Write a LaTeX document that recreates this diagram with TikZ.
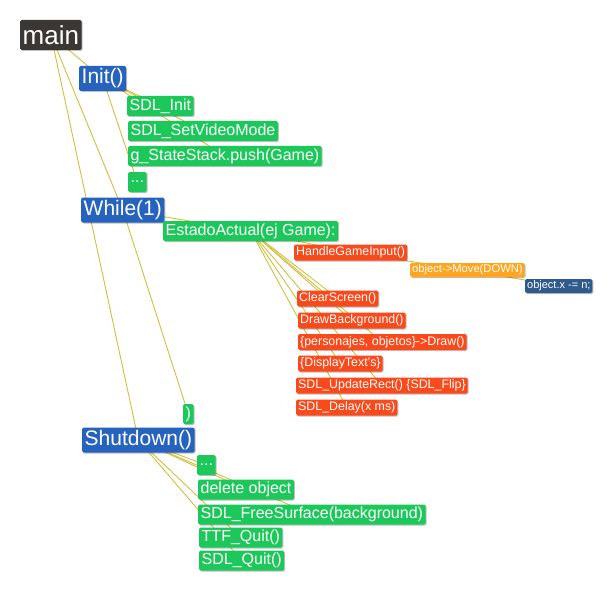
\documentclass[tikz,border=0pt]{standalone}
\usepackage{fontspec}
\setmainfont{Liberation Sans}
\usetikzlibrary{shadows,backgrounds}

\definecolor{mainclr}{HTML}{3B3735}
\definecolor{blueclr}{HTML}{2563BE}
\definecolor{greenclr}{HTML}{1CC85A}
\definecolor{redclr}{HTML}{FA4A1C}
\definecolor{orangeclr}{HTML}{FFA51F}
\definecolor{navyclr}{HTML}{2F5A8C}
\definecolor{linkclr}{HTML}{D2BE40}

\tikzset{
	box/.style={rectangle, rounded corners=1.5pt, text=white, anchor=west,
		inner xsep=2.5pt, inner ysep=0pt,
		drop shadow={shadow xshift=1pt, shadow yshift=-1pt, opacity=.25, fill=black}},
	rootbox/.style={box, fill=mainclr, minimum height=30pt, font=\fontsize{26}{26}\selectfont},
	lvlone/.style={box, fill=blueclr, minimum height=25pt, font=\fontsize{21}{21}\selectfont},
	lvltwo/.style={box, fill=greenclr, minimum height=20pt, font=\fontsize{16}{16}\selectfont},
	lvlthree/.style={box, fill=redclr, minimum height=16pt, inner xsep=2pt, font=\fontsize{12.4}{12.4}\selectfont},
	lvlfour/.style={box, fill=orangeclr, minimum height=14pt, inner xsep=2pt, font=\fontsize{11.2}{11.2}\selectfont},
	lvlfive/.style={box, fill=navyclr, minimum height=14pt, inner xsep=2pt, font=\fontsize{11}{11}\selectfont},
	link/.style={draw=linkclr, line width=0.9pt}
}

\begin{document}
\begin{tikzpicture}[x=1pt,y=-1pt]
			\useasboundingbox (0,0) rectangle (613,591);
			% main and its branches
			\node[rootbox] (main) at (20,35) {main};
			\node[lvlone] (init) at (79,78.5) {Init()};
			\node[lvlone] (while) at (81,210) {While(1)};
			\node[lvlone] (shutdown) at (82,440) {Shutdown()};
			% Init()
			\node[lvltwo] (sdlinit) at (127,106) {SDL\_Init};
			\node[lvltwo] (setvideo) at (128,131) {SDL\_SetVideoMode};
			\node[lvltwo] (pushgame) at (128,156) {g\_StateStack.push(Game)};
			\node[lvltwo] (initdots) at (128,182) {...};
			% While(1)
			\node[lvltwo] (estado) at (163,231) {EstadoActual(ej Game):};
			\node[lvltwo] (closing) at (183,414) {)};
			\node[lvlthree] (input) at (294,252.5) {HandleGameInput()};
			\node[lvlfour] (move) at (410,270) {object->Move(DOWN)};
			\node[lvlfive] (objx) at (525,286) {object.x -= n;};
			\node[lvlthree] (clear) at (297,298.5) {ClearScreen()};
			\node[lvlthree] (drawbg) at (298,320.5) {DrawBackground()};
			\node[lvlthree] (drawobj) at (298,342) {\{personajes, objetos\}->Draw()};
			\node[lvlthree] (texts) at (298,363.5) {\{DisplayText's\}};
			\node[lvlthree] (update) at (296,385.5) {SDL\_UpdateRect() \{SDL\_Flip\}};
			\node[lvlthree] (delay) at (296,407.5) {SDL\_Delay(x ms)};
			% Shutdown()
			\node[lvltwo] (shutdots) at (197,465) {...};
			\node[lvltwo] (delobj) at (198,489.5) {delete object};
			\node[lvltwo] (freesurf) at (198,514.5) {SDL\_FreeSurface(background)};
			\node[lvltwo] (ttfquit) at (199,537.5) {TTF\_Quit()};
			\node[lvltwo] (sdlquit) at (199,560.5) {SDL\_Quit()};
			\begin{pgfonlayer}{background}
			\draw[link] (main.center) -- (init.center);
			\draw[link] (main.center) -- (while.center);
			\draw[link] (main.center) -- (shutdown.center);
			\draw[link] (init.center) -- (sdlinit.center);
			\draw[link] (init.center) -- (setvideo.center);
			\draw[link] (init.center) -- (pushgame.center);
			\draw[link] (init.center) -- (initdots.center);
			\draw[link] (while.center) -- (estado.center);
			\draw[link] (while.center) -- (closing.center);
			\draw[link] (estado.center) -- (input.center);
			\draw[link] (input.center) -- (move.center);
			\draw[link] (move.center) -- (objx.center);
			\draw[link] (estado.center) -- (clear.center);
			\draw[link] (estado.center) -- (drawbg.center);
			\draw[link] (estado.center) -- (drawobj.center);
			\draw[link] (estado.center) -- (texts.center);
			\draw[link] (estado.center) -- (update.center);
			\draw[link] (estado.center) -- (delay.center);
			\draw[link] (shutdown.center) -- (shutdots.center);
			\draw[link] (shutdown.center) -- (delobj.center);
			\draw[link] (shutdown.center) -- (freesurf.center);
			\draw[link] (shutdown.center) -- (ttfquit.center);
			\draw[link] (shutdown.center) -- (sdlquit.center);
			\end{pgfonlayer}
\end{tikzpicture}
\end{document}
